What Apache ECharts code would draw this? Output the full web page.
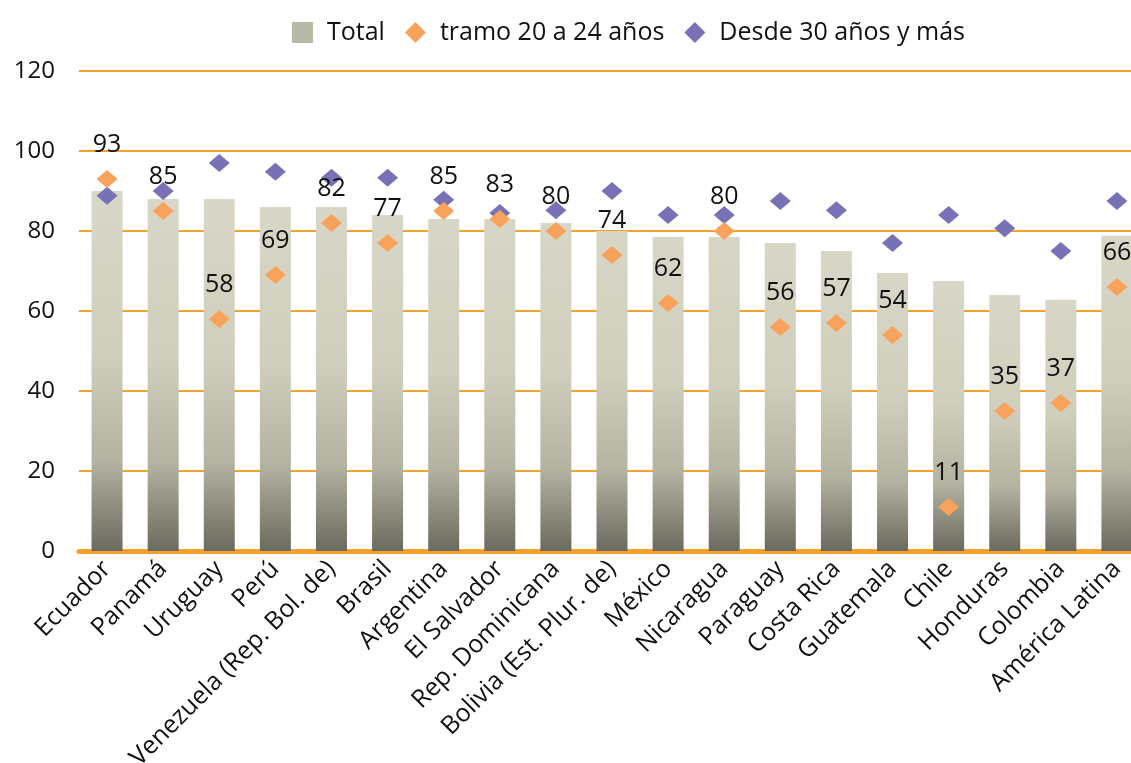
<!DOCTYPE html>
<html>
<head>
<meta charset="utf-8">
<script src="https://cdn.jsdelivr.net/npm/echarts@6/dist/echarts.min.js"></script>
<style>
  html, body { margin: 0; padding: 0; background: #fff; overflow: hidden; }
  #chart { width: 1131px; height: 763px; }
</style>
</head>
<body>
<div id="chart"></div>
<script>
// Countries shown along the category axis
const countries = [
  'Ecuador', 'Panamá', 'Uruguay', 'Perú', 'Venezuela (Rep. Bol. de)', 'Brasil',
  'Argentina', 'El Salvador', 'Rep. Dominicana', 'Bolivia (Est. Plur. de)',
  'México', 'Nicaragua', 'Paraguay', 'Costa Rica', 'Guatemala', 'Chile',
  'Honduras', 'Colombia', 'América Latina'
];

// Total (bars)
const totalValues = [90, 88, 88, 86, 86, 84, 83, 83, 82, 80, 78.5, 78.5, 77, 75, 69.5, 67.5, 64, 62.8, 78.8];

// tramo 20 a 24 años (orange diamonds, labelled)
const tramo2024 = [93, 85, 58, 69, 82, 77, 85, 83, 80, 74, 62, 80, 56, 57, 54, 11, 35, 37, 66];

// Desde 30 años y más (purple diamonds)
const desde30 = [88.8, 90, 97, 94.8, 93.3, 93.3, 87.8, 84.5, 85.2, 90, 84, 84, 87.5, 85.2, 77, 84, 80.7, 75, 87.5];

const yTicks = { min: 0, max: 120, interval: 20 };

const FONT = 'Open Sans';
const ORANGE_LINE = '#f6a129';
const ORANGE_MARK = '#f9a25b';
const PURPLE_MARK = '#7672b5';

const barGradient = new echarts.graphic.LinearGradient(0, 0, 0, 1, [
  { offset: 0, color: '#d8d6c6' },
  { offset: 0.45, color: '#d0cebc' },
  { offset: 0.75, color: '#b4b2a1' },
  { offset: 1, color: '#6b6a5e' }
]);

const chart = echarts.init(document.getElementById('chart'), null, { renderer: 'canvas' });

chart.setOption({
  animation: false,
  textStyle: { fontFamily: FONT },
  legend: {
    top: 15,
    left: 287,
    itemWidth: 21,
    itemHeight: 21,
    itemGap: 20,
    textStyle: { fontFamily: FONT, fontSize: 25, color: '#111', padding: [0, 0, 0, 9] },
    data: [
      { name: 'Total', icon: 'rect', itemStyle: { color: '#b9b9a8' } },
      { name: 'tramo 20 a 24 años', icon: 'diamond' },
      { name: 'Desde 30 años y más', icon: 'diamond' }
    ]
  },
  // the last category runs slightly past the right edge of the canvas
  grid: {
    left: 79, width: 1066, top: 71, bottom: 212,
    containLabel: false, outerBoundsMode: 'none'
  },
  xAxis: {
    type: 'category',
    data: countries,
    axisTick: { show: false },
    axisLine: { show: true, lineStyle: { color: ORANGE_LINE, width: 5 } },
    axisLabel: {
      rotate: 45,
      interval: 0,
      margin: 14,
      fontFamily: FONT,
      fontSize: 25,
      color: '#111'
    }
  },
  yAxis: {
    type: 'value',
    min: yTicks.min,
    max: yTicks.max,
    interval: yTicks.interval,
    axisLine: { show: false },
    axisTick: { show: false },
    axisLabel: { fontFamily: FONT, fontSize: 24, color: '#111', margin: 24 },
    splitLine: { lineStyle: { color: ORANGE_LINE, width: 2 } }
  },
  series: [
    {
      name: 'Total',
      type: 'bar',
      data: totalValues,
      barWidth: 31,
      itemStyle: { color: barGradient },
      z: 2
    },
    {
      name: 'Desde 30 años y más',
      type: 'scatter',
      data: desde30,
      symbol: 'diamond',
      symbolSize: [21, 18],
      itemStyle: { color: PURPLE_MARK, opacity: 1 },
      z: 3
    },
    {
      name: 'tramo 20 a 24 años',
      type: 'scatter',
      data: tramo2024,
      symbol: 'diamond',
      symbolSize: [21, 18],
      itemStyle: { color: ORANGE_MARK, opacity: 1 },
      label: {
        show: true,
        position: 'top',
        distance: 13,
        fontFamily: FONT,
        fontSize: 25,
        color: '#111'
      },
      z: 4
    }
  ]
});
</script>
</body>
</html>
